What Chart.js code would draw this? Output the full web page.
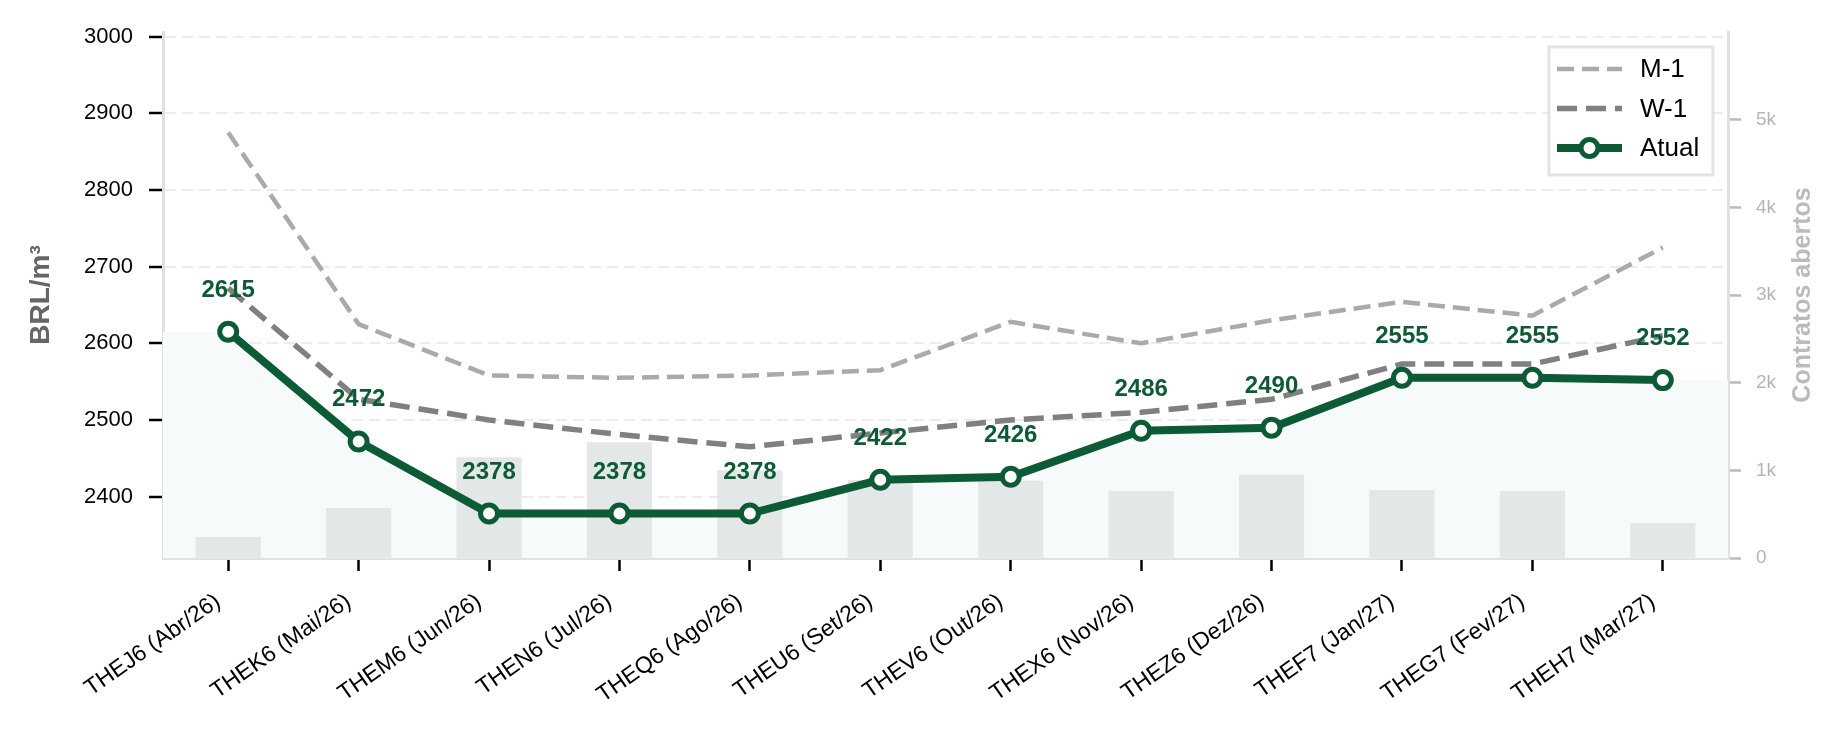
<!DOCTYPE html>
<html>
<head>
<meta charset="utf-8">
<script src="https://cdn.jsdelivr.net/npm/chart.js@4.4.1/dist/chart.umd.min.js"></script>
<style>
html, body { margin: 0; padding: 0; background: #fff; }
canvas { display: block; }
</style>
</head>
<body>
<canvas id="curvaEtanol" width="1846" height="735"></canvas>
<script>
// Vencimentos da curva
var contratos = ["THEJ6 (Abr/26)", "THEK6 (Mai/26)", "THEM6 (Jun/26)", "THEN6 (Jul/26)",
    "THEQ6 (Ago/26)", "THEU6 (Set/26)", "THEV6 (Out/26)", "THEX6 (Nov/26)",
    "THEZ6 (Dez/26)", "THEF7 (Jan/27)", "THEG7 (Fev/27)", "THEH7 (Mar/27)"];

// Precos (BRL/m3)
var atual = [2615, 2472, 2378, 2378, 2378, 2422, 2426, 2486, 2490, 2555, 2555, 2552];
var semanaAnterior = [2672, 2527, 2500, 2481, 2465, 2483, 2500, 2510, 2527, 2573, 2573, 2610]; // W-1
var mesAnterior = [2875, 2625, 2558, 2555, 2558, 2565, 2628, 2600, 2630, 2654, 2636, 2725];    // M-1

// Contratos abertos (eixo da direita)
var contratosAbertos = [240, 570, 1150, 1320, 1000, 890, 880, 760, 950, 775, 765, 400];
var ticksContratos = [0, 1000, 2000, 3000, 4000, 5000];

var verde = '#0c5b35';
var fonte = '"Liberation Sans", Arial, sans-serif';

// area sombreada: mesma curva atual, esticada ate as bordas do eixo
var areaAtual = [{ x: -0.5, y: atual[0] }];
atual.forEach(function(v, i) { areaAtual.push({ x: i, y: v }); });
areaAtual.push({ x: contratos.length - 0.5, y: atual[atual.length - 1] });

// Rotulos de valor acima dos pontos da curva atual
var rotulosPlugin = {
    id: 'rotulos',
    afterDatasetsDraw: function(chart) {
        var idx = chart.data.datasets.findIndex(function(d) { return d.label === 'Atual'; });
        var meta = chart.getDatasetMeta(idx);
        var ctx = chart.ctx;
        ctx.save();
        ctx.font = 'bold 24px ' + fonte;
        ctx.fillStyle = verde;
        ctx.textAlign = 'center';
        ctx.textBaseline = 'alphabetic';
        meta.data.forEach(function(pt, i) {
            ctx.fillText(String(atual[i]), pt.x, pt.y - 35);
        });
        ctx.restore();
    }
};

// Legenda com moldura no canto superior direito + titulo do eixo da direita
var legendaPlugin = {
    id: 'legenda',
    afterDraw: function(chart) {
        var ctx = chart.ctx;
        var area = chart.chartArea;
        var x0 = area.right - 179, y0 = area.top + 15;
        ctx.save();
        ctx.fillStyle = '#ffffff';
        ctx.fillRect(x0, y0, 164, 128);
        ctx.strokeStyle = '#e3e3e3';
        ctx.lineWidth = 3;
        ctx.strokeRect(x0, y0, 164, 128);

        var itens = chart.data.datasets.filter(function(d) { return d.legenda; });
        itens.forEach(function(d, i) {
            var y = y0 + 22 + i * 39.5;
            ctx.beginPath();
            ctx.setLineDash(d.borderDash || []);
            ctx.lineWidth = d.borderWidth;
            ctx.strokeStyle = d.borderColor;
            ctx.moveTo(x0 + 8, y);
            ctx.lineTo(x0 + 73, y);
            ctx.stroke();
            ctx.setLineDash([]);
            if (d.pointRadius > 0) {
                ctx.beginPath();
                ctx.arc(x0 + 40.5, y, d.pointRadius, 0, Math.PI * 2);
                ctx.fillStyle = d.pointBackgroundColor;
                ctx.fill();
                ctx.lineWidth = d.pointBorderWidth;
                ctx.strokeStyle = d.pointBorderColor;
                ctx.stroke();
            }
            ctx.fillStyle = '#000';
            ctx.font = '26px ' + fonte;
            ctx.textAlign = 'left';
            ctx.textBaseline = 'middle';
            ctx.fillText(d.label, x0 + 91, y + 1);
        });

        // titulo do eixo direito (lido de baixo para cima)
        ctx.translate(1803, (area.top + area.bottom) / 2);
        ctx.rotate(-Math.PI / 2);
        ctx.font = 'bold 25px ' + fonte;
        ctx.fillStyle = '#bbbbbb';
        ctx.textAlign = 'center';
        ctx.textBaseline = 'middle';
        ctx.fillText('Contratos abertos', 0, 0);
        ctx.restore();
    }
};

var ctx = document.getElementById('curvaEtanol').getContext('2d');
var grafico = new Chart(ctx, {
    type: 'bar',
    data: {
        labels: contratos,
        datasets: [
            {
                type: 'line',
                label: 'area',
                data: areaAtual,
                xAxisID: 'xf',
                yAxisID: 'y',
                fill: 'start',
                backgroundColor: '#f7fafb',
                borderWidth: 0,
                pointRadius: 0,
                order: 6
            },
            {
                type: 'bar',
                label: 'Contratos abertos',
                data: contratosAbertos,
                xAxisID: 'x',
                yAxisID: 'y2',
                backgroundColor: '#e4e7e8',
                grouped: false,
                barPercentage: 0.5,
                categoryPercentage: 1.0,
                order: 5
            },
            {
                type: 'line',
                label: 'M-1',
                legenda: true,
                data: mesAnterior,
                yAxisID: 'y',
                borderColor: '#aaaaaa',
                borderWidth: 4.5,
                borderDash: [17, 8],
                pointRadius: 0,
                tension: 0,
                fill: false,
                order: 3
            },
            {
                type: 'line',
                label: 'W-1',
                legenda: true,
                data: semanaAnterior,
                yAxisID: 'y',
                borderColor: '#808080',
                borderWidth: 5.5,
                borderDash: [20, 9],
                pointRadius: 0,
                tension: 0,
                fill: false,
                order: 2
            },
            {
                type: 'line',
                label: 'Atual',
                legenda: true,
                data: atual,
                yAxisID: 'y',
                borderColor: verde,
                borderWidth: 8,
                pointRadius: 8.5,
                pointBackgroundColor: '#ffffff',
                pointBorderColor: verde,
                pointBorderWidth: 5,
                tension: 0,
                fill: false,
                order: 1
            }
        ]
    },
    options: {
        responsive: false,
        animation: false,
        layout: { padding: { top: 32, left: 0, right: 0, bottom: 0 } },
        plugins: {
            legend: { display: false },
            tooltip: { enabled: false }
        },
        scales: {
            x: {
                type: 'category',
                offset: true,
                grid: { drawOnChartArea: false, offset: false, tickLength: 13, tickWidth: 2.5, tickColor: '#000', tickBorderDash: [] },
                border: { color: '#e0e0e0', width: 3 },
                ticks: {
                    autoSkip: false, maxRotation: 35, minRotation: 35,
                    color: '#000', padding: 17, labelOffset: -10,
                    font: { family: fonte, size: 23 }
                },
                afterFit: function(s) { s.height = 177; }
            },
            xf: { type: 'linear', display: false, min: -0.5, max: contratos.length - 0.5, offset: false },
            y: {
                position: 'left',
                min: 2320,
                max: 3006,
                ticks: {
                    stepSize: 100, includeBounds: false,
                    color: '#000', padding: 16,
                    font: { family: fonte, size: 22 },
                    callback: function(v) { return String(v); }
                },
                grid: { color: '#ececec', lineWidth: 2, tickLength: 14, tickWidth: 2.5, tickColor: '#000', tickBorderDash: [] },
                border: { color: '#e0e0e0', width: 3, dash: [11, 6] },
                title: {
                    display: true,
                    text: 'BRL/m³',
                    color: '#666666',
                    font: { family: fonte, size: 28, weight: 'bold' },
                    padding: { top: 24, bottom: 0 }
                },
                afterFit: function(s) { s.width = 163; }
            },
            y2: {
                position: 'right',
                min: 0,
                max: 6000,
                afterBuildTicks: function(s) {
                    s.ticks = ticksContratos.map(function(v) { return { value: v }; });
                },
                ticks: {
                    color: '#b5b5b5', padding: 15,
                    font: { family: fonte, size: 19 },
                    callback: function(v) { return v === 0 ? '0' : (v / 1000) + 'k'; }
                },
                grid: { drawOnChartArea: false, tickLength: 13, tickWidth: 2.5, tickColor: '#bbbbbb', tickBorderDash: [] },
                border: { color: '#e0e0e0', width: 3 },
                afterFit: function(s) { s.width = 118; }
            }
        }
    },
    plugins: [rotulosPlugin, legendaPlugin]
});
</script>
</body>
</html>
